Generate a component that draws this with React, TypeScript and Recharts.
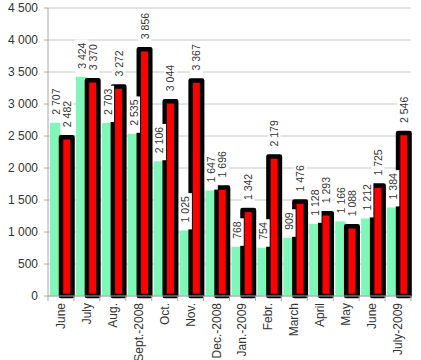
import React from 'react';
import { BarChart, Bar, XAxis, YAxis, CartesianGrid, LabelList } from 'recharts';

const months = ['June', 'July', 'Aug.', 'Sept.-2008', 'Oct.', 'Nov.', 'Dec.-2008', 'Jan.-2009', 'Febr.', 'March', 'April', 'May', 'June', 'July-2009'];
const greenValues = [2707, 3424, 2703, 2535, 2106, 1025, 1647, 768, 754, 909, 1128, 1166, 1212, 1384];
const redValues = [2482, 3370, 3272, 3856, 3044, 3367, 1696, 1342, 2179, 1476, 1293, 1088, 1725, 2546];
const yTicks = [0, 500, 1000, 1500, 2000, 2500, 3000, 3500, 4000, 4500];

const data = months.map((m, i) => ({ idx: i, month: m, green: greenValues[i], red: redValues[i] }));

const fmt = (v: number) => String(v).replace(/\B(?=(\d{3})+(?!\d))/g, ' ');

const FONT = '"Liberation Sans", Arial, sans-serif';

const makeLabel = (gap: number) => (props: any) => {
  const vb = props.viewBox || {};
  const x = props.x ?? vb.x;
  const y = props.y ?? vb.y;
  const w = props.width ?? vb.width;
  const value = props.value;
  if (x == null || y == null || value == null) return null;
  const text = fmt(Number(value));
  const tw = text.replace(/ /g, '').length * 5.85 + (text.includes(' ') ? 2.9 : 0);
  const cx = x + w / 2;
  return (
    <g transform={`translate(${cx},${y - gap}) rotate(-90)`}>
      <rect x={0} y={-6.5} width={tw + 10} height={13} fill="#ffffff" />
      <text x={7} y={0} dominantBaseline="central" fontSize={10.5} fontFamily={FONT} fill="#333333">
        {text}
      </text>
    </g>
  );
};

const XTick = (props: any) => {
  const { x, y, payload, index } = props;
  const half = payload && payload.offset ? payload.offset : 12.96;
  const label = months[Number(payload.value)];
  return (
    <g>
      <line x1={x - half} x2={x - half} y1={y} y2={y + 5} stroke="#a6a6a6" />
      {index === months.length - 1 && <line x1={x + half} x2={x + half} y1={y} y2={y + 5} stroke="#a6a6a6" />}
      <text
        transform={`translate(${x + 4},${y + 7}) rotate(-90)`}
        textAnchor="end"
        fontSize={12}
        fontFamily={FONT}
        fill="#333333"
      >
        {label}
      </text>
    </g>
  );
};

export default function App() {
  return (
    <div style={{ position: 'absolute', left: 0, top: 0, background: '#fff' }}>
      <BarChart
        width={421}
        height={360}
        data={data}
        margin={{ top: 8, right: 10, left: 0, bottom: 0 }}
        barSize={11.5}
        barGap={-0.5}
      >
        <CartesianGrid vertical={false} stroke="#c8c8c8" />
        <XAxis
          dataKey="idx"
          type="category"
          height={64}
          tickLine={false}
          tickSize={0}
          tickMargin={0}
          axisLine={{ stroke: '#a6a6a6' }}
          tick={<XTick />}
          interval={0}
        />
        <YAxis
          width={48}
          domain={[0, 4500]}
          ticks={yTicks}
          tickFormatter={fmt}
          tick={{ fontSize: 12, fontFamily: FONT, fill: '#333333' }}
          tickSize={4}
          tickMargin={6}
          tickLine={{ stroke: '#a6a6a6' }}
          axisLine={{ stroke: '#a6a6a6' }}
          interval={0}
        />
        <Bar dataKey="green" fill="#7ff7b9" isAnimationActive={false}>
          <LabelList dataKey="green" content={makeLabel(1)} />
        </Bar>
        <Bar dataKey="red" fill="#ff0000" stroke="#000000" strokeWidth={4.5} strokeLinejoin="round" isAnimationActive={false}>
          <LabelList dataKey="red" content={makeLabel(3)} />
        </Bar>
      </BarChart>
    </div>
  );
}
